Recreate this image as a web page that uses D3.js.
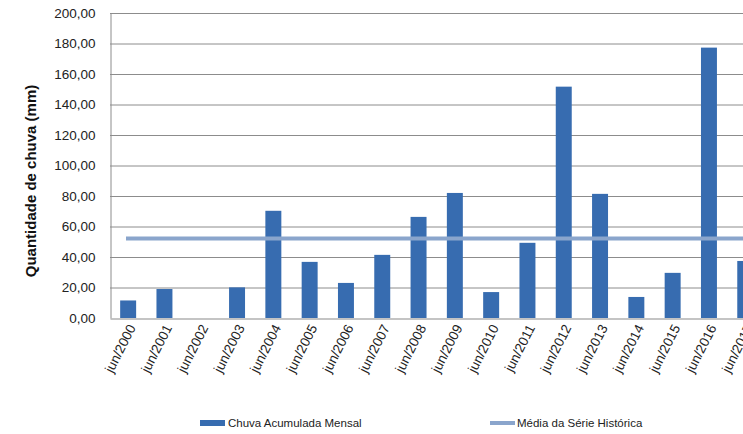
<!DOCTYPE html>
<html><head><meta charset="utf-8">
<script src="https://cdn.jsdelivr.net/npm/d3@7"></script>
<style>body{margin:0;background:#fff;overflow:hidden}svg{display:block}</style>
</head><body><svg id="c" width="743" height="434"></svg>
<script>
const categories = ["jun/2000","jun/2001","jun/2002","jun/2003","jun/2004","jun/2005","jun/2006","jun/2007","jun/2008","jun/2009","jun/2010","jun/2011","jun/2012","jun/2013","jun/2014","jun/2015","jun/2016","jun/2017"];
const chuva = [11.5,19.0,0,20.1,70.3,36.8,23.0,41.4,66.3,82.0,17.0,49.3,151.7,81.4,13.8,29.6,177.3,37.4];
const media = 52.1;
const yTicks = [0,20,40,60,80,100,120,140,160,180,200];
const seriesNames = ["Chuva Acumulada Mensal","Média da Série Histórica"];

const svg = d3.select("#c");
const mLeft = 110, mTop = 13, mBottom = 318, band = 36.3;
const mRight = mLeft + band * categories.length;
const x = d3.scaleBand().domain(categories).range([mLeft, mRight]).paddingInner(0.56).paddingOuter(0.28);
const y = d3.scaleLinear().domain([0,200]).range([mBottom, mTop]);
const fmt = v => d3.format(".2f")(v).replace(".", ",");
const font = "'Liberation Sans', Arial, sans-serif";

// gridlines
svg.append("g").selectAll("line").data(yTicks.filter(d=>d>0)).join("line")
  .attr("x1", mLeft).attr("x2", 743).attr("y1", d=>y(d)+0.5).attr("y2", d=>y(d)+0.5)
  .attr("stroke", "#8c8c8c").attr("stroke-width", 1);

// y axis
const ya = svg.append("g").attr("transform", `translate(${mLeft+0.5},0)`)
  .call(d3.axisLeft(y).tickValues(yTicks).tickFormat(fmt).tickSize(0).tickPadding(15));
ya.select(".domain").attr("stroke", "#8c8c8c");
ya.selectAll("text").attr("font-family", font).attr("font-size", 13.5).attr("fill", "#222");

// bars
svg.append("g").selectAll("rect").data(chuva).join("rect")
  .attr("x", (d,i)=>x(categories[i])).attr("width", x.bandwidth())
  .attr("y", d=>y(d)).attr("height", d=>mBottom - y(d))
  .attr("fill", "#376cb0");

// x axis
const xa = svg.append("g").attr("transform", `translate(0,${mBottom+0.5})`)
  .call(d3.axisBottom(x).tickSize(0).tickPadding(0));
xa.select(".domain").attr("stroke", "#b0b0b0").attr("stroke-width", 1.5);
xa.selectAll("text").attr("font-family", font).attr("font-size", 13.5).attr("fill", "#222")
  .attr("text-anchor", "end").attr("dy", 0)
  .attr("transform", "translate(8,9) rotate(-63)");

// mean line
svg.append("line").attr("x1", 126).attr("x2", 743)
  .attr("y1", y(media)).attr("y2", y(media))
  .attr("stroke", "#8aa5cc").attr("stroke-width", 4);

// y title
svg.append("text").attr("transform", `translate(36,181) rotate(-90)`)
  .attr("text-anchor", "middle").attr("font-family", font).attr("font-weight", "bold")
  .attr("font-size", 15).attr("fill", "#111").text("Quantidade de chuva (mm)");

// legend
const lg = svg.append("g").attr("font-family", font).attr("font-size", 11.5).attr("fill", "#222");
lg.append("rect").attr("x", 200).attr("y", 420).attr("width", 25).attr("height", 6).attr("fill", "#376cb0");
lg.append("text").attr("x", 228).attr("y", 427).text(seriesNames[0]);
lg.append("line").attr("x1", 490).attr("x2", 515).attr("y1", 423).attr("y2", 423).attr("stroke", "#8aa5cc").attr("stroke-width", 4);
lg.append("text").attr("x", 517).attr("y", 427).text(seriesNames[1]);
</script></body></html>
